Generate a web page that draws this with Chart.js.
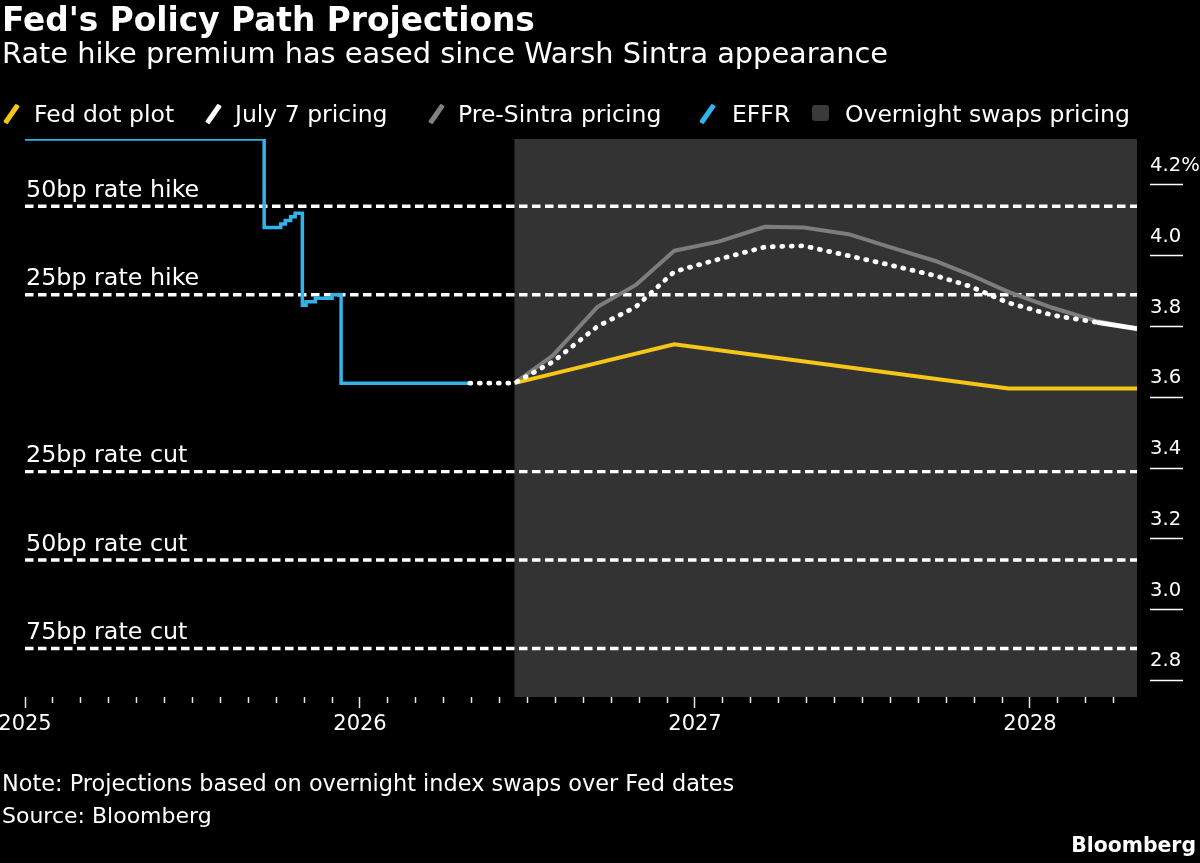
<!DOCTYPE html>
<html>
<head>
<meta charset="utf-8">
<script src="https://cdn.jsdelivr.net/npm/chart.js@4.4.1/dist/chart.umd.min.js"></script>
<style>
  html, body { margin: 0; padding: 0; background: #000; }
  body { width: 1200px; height: 863px; position: relative; overflow: hidden; font-family: "DejaVu Sans", sans-serif; color: #fff; }
  .t { position: absolute; white-space: nowrap; line-height: 1; }
  #title { left: 2px; top: 4px; font-size: 32.8px; font-weight: bold; }
  #subtitle { left: 2px; top: 39px; font-size: 28.8px; }
  .lg { font-size: 23.5px; top: 103px; }
  .slash { position: absolute; width: 5px; height: 22px; top: 102.5px; transform: rotate(35deg); border-radius: 1px; }
  .sq { position: absolute; width: 17px; height: 16px; top: 105px; border-radius: 3px; background: #3a3a3a; }
  #note { left: 2px; top: 772px; font-size: 22.4px; }
  #source { left: 2px; top: 805px; font-size: 22px; }
  #brand { right: 4px; top: 835px; font-size: 20.4px; font-weight: bold; }
  #wrap { position: absolute; left: 0; top: 0; width: 1200px; height: 863px; }
</style>
</head>
<body>
<div id="wrap"><canvas id="c" width="1200" height="863"></canvas></div>
<div class="t" id="title">Fed's Policy Path Projections</div>
<div class="t" id="subtitle">Rate hike premium has eased since Warsh Sintra appearance</div>

<div class="slash" style="left:9px;background:#f5c518"></div>
<div class="t lg" style="left:34px">Fed dot plot</div>
<div class="slash" style="left:211px;background:#ffffff"></div>
<div class="t lg" style="left:235px">July 7 pricing</div>
<div class="slash" style="left:434px;background:#808080"></div>
<div class="t lg" style="left:458px">Pre-Sintra pricing</div>
<div class="slash" style="left:705px;background:#30b4ea"></div>
<div class="t lg" style="left:732px">EFFR</div>
<div class="sq" style="left:812px"></div>
<div class="t lg" style="left:845px">Overnight swaps pricing</div>

<div class="t" id="note">Note: Projections based on overnight index swaps over Fed dates</div>
<div class="t" id="source">Source: Bloomberg</div>
<div class="t" id="brand">Bloomberg</div>

<script>
// ---------------- DATA ----------------
const effrDates  = ['2025-01-01','2025-09-18','2025-10-06','2025-10-11','2025-10-17','2025-10-22','2025-10-30','2025-11-03','2025-11-13','2025-12-01','2025-12-11','2026-04-29'];
const effrValues = [4.33, 4.08, 4.09, 4.10, 4.11, 4.12, 3.86, 3.87, 3.88, 3.89, 3.64, 3.64];

const fedDates = ['2026-04-29','2026-06-17','2026-07-29','2026-09-16','2026-10-28','2026-12-09',
                  '2027-01-27','2027-03-17','2027-04-28','2027-06-16','2027-07-28','2027-09-22',
                  '2027-10-27','2027-12-08','2028-01-26','2028-03-15','2028-04-26'];
const july7Pricing = [3.64, 3.64, 3.70, 3.80, 3.855, 3.955, 3.99, 4.025, 4.028, 4.00, 3.976, 3.942, 3.914, 3.867, 3.832, 3.811, 3.794];

const preSintraDates  = fedDates.slice(1);
const preSintraPricing = [3.64, 3.718, 3.855, 3.917, 4.014, 4.04, 4.082, 4.08, 4.061, 4.027, 3.983, 3.947, 3.898, 3.853, 3.814, 3.794];

const dotPlotDates  = ['2026-06-17','2026-12-09','2027-12-08','2028-04-26'];
const dotPlotValues = [3.64, 3.75, 3.625, 3.625];

const refLabels = ['50bp rate hike','25bp rate hike','25bp rate cut','50bp rate cut','75bp rate cut'];
const refValues = [4.14, 3.89, 3.39, 3.14, 2.89];

const shadeStartDate = '2026-06-17';
const yTicks = [2.8, 3.0, 3.2, 3.4, 3.6, 3.8, 4.0, 4.2];
const yearLabels = ['2025','2026','2027','2028'];
const xStartDate = '2025-01-01';
const xEndDate = '2028-04-26';

// --------------- HELPERS ---------------
function toM(d) {
  const [Y, M, D] = d.split('-').map(Number);
  const dim = new Date(Y, M, 0).getDate();
  return (Y - 2025) * 12 + (M - 1) + (D - 1) / dim;
}
const pts = (dates, vals) => dates.map((d, i) => ({ x: toM(d), y: vals[i] }));
const xMin = toM(xStartDate), xMax = toM(xEndDate);
const monthTicks = [];
for (let m = Math.ceil(xMin); m <= Math.floor(xMax); m++) monthTicks.push(m);

const FONT = '"DejaVu Sans", sans-serif';

const refDatasets = refValues.map((v, i) => ({
  label: refLabels[i],
  data: [{ x: xMin, y: v }, { x: xMax, y: v }],
  borderColor: '#ffffff', borderWidth: 3.4, borderDash: [8.5, 4.5],
  pointRadius: 0, order: 10 + i
}));

const lastJ = july7Pricing.length - 1;

const shadePlugin = {
  id: 'shade',
  beforeDatasetsDraw(chart) {
    const { ctx, chartArea, scales } = chart;
    const x0 = scales.x.getPixelForValue(toM(shadeStartDate));
    ctx.save();
    ctx.fillStyle = '#333333';
    ctx.fillRect(x0, chartArea.top, chartArea.right - x0, chartArea.bottom - chartArea.top);
    ctx.restore();
  },
  afterDatasetsDraw(chart) {
    const { ctx, chartArea, scales } = chart;
    ctx.save();
    ctx.font = '23.8px ' + FONT;
    ctx.fillStyle = '#ffffff';
    ctx.textAlign = 'left';
    ctx.textBaseline = 'alphabetic';
    refValues.forEach((v, i) => {
      const y = scales.y.getPixelForValue(v);
      ctx.fillText(refLabels[i], chartArea.left + 1, y - 9.5);
    });
    ctx.restore();
  }
};

new Chart(document.getElementById('c'), {
  type: 'line',
  data: {
    datasets: [
      {
        label: 'July 7 pricing',
        data: pts(fedDates, july7Pricing),
        borderColor: '#ffffff', borderWidth: 4.8, borderDash: [1, 8.5], borderCapStyle: 'round',
        segment: { borderDash: ctx => ctx.p1DataIndex === lastJ ? [] : undefined },
        pointRadius: 0, tension: 0, order: 1
      },
      {
        label: 'Fed dot plot',
        data: pts(dotPlotDates, dotPlotValues),
        borderColor: '#f5c518', borderWidth: 4, pointRadius: 0, order: 2
      },
      {
        label: 'Pre-Sintra pricing',
        data: pts(preSintraDates, preSintraPricing),
        borderColor: '#7d7d7d', borderWidth: 4, pointRadius: 0, order: 3, borderJoinStyle: 'round'
      },
      {
        label: 'EFFR',
        data: pts(effrDates, effrValues),
        borderColor: '#30b4ea', borderWidth: 3.5, pointRadius: 0, stepped: 'before', order: 4
      },
      ...refDatasets
    ]
  },
  options: {
    responsive: false,
    animation: false,
    events: [],
    layout: { padding: { left: 25, right: 0, top: 139, bottom: 126 } },
    plugins: { legend: { display: false }, tooltip: { enabled: false } },
    scales: {
      x: {
        type: 'linear', min: xMin, max: xMax,
        afterFit: s => { s.height = 40; s.paddingLeft = 0; s.paddingRight = 0; },
        afterBuildTicks: s => { s.ticks = monthTicks.map(v => ({ value: v })); },
        border: { display: false },
        grid: {
          drawOnChartArea: false, drawTicks: true, tickLength: 11,
          tickColor: '#e6e6e6', tickWidth: 1.5,
          tickBorderDash: ctx => (ctx.tick && ctx.tick.value % 12 === 0) ? [] : [6, 20]
        },
        ticks: {
          autoSkip: false, maxRotation: 0, padding: 4, color: '#ffffff',
          font: { family: FONT, size: 21 },
          callback: v => (v % 12 === 0) ? yearLabels[v / 12] : ''
        }
      },
      y: {
        position: 'right', min: 2.753, max: 4.33,
        afterFit: s => { s.width = 63; s.paddingTop = 0; s.paddingBottom = 0; },
        afterBuildTicks: s => { s.ticks = yTicks.map(v => ({ value: v })); },
        border: { display: false },
        grid: {
          drawOnChartArea: false, drawTicks: true, tickLength: 46,
          tickColor: '#ffffff', tickWidth: 1.5, tickBorderDash: [0, 13, 33, 200]
        },
        ticks: {
          padding: -33, labelOffset: -19, color: '#ffffff', crossAlign: 'near',
          font: { family: FONT, size: 19.6 },
          callback: v => v === 4.2 ? '4.2%' : v.toFixed(1)
        }
      }
    }
  },
  plugins: [shadePlugin]
});
</script>
</body>
</html>
